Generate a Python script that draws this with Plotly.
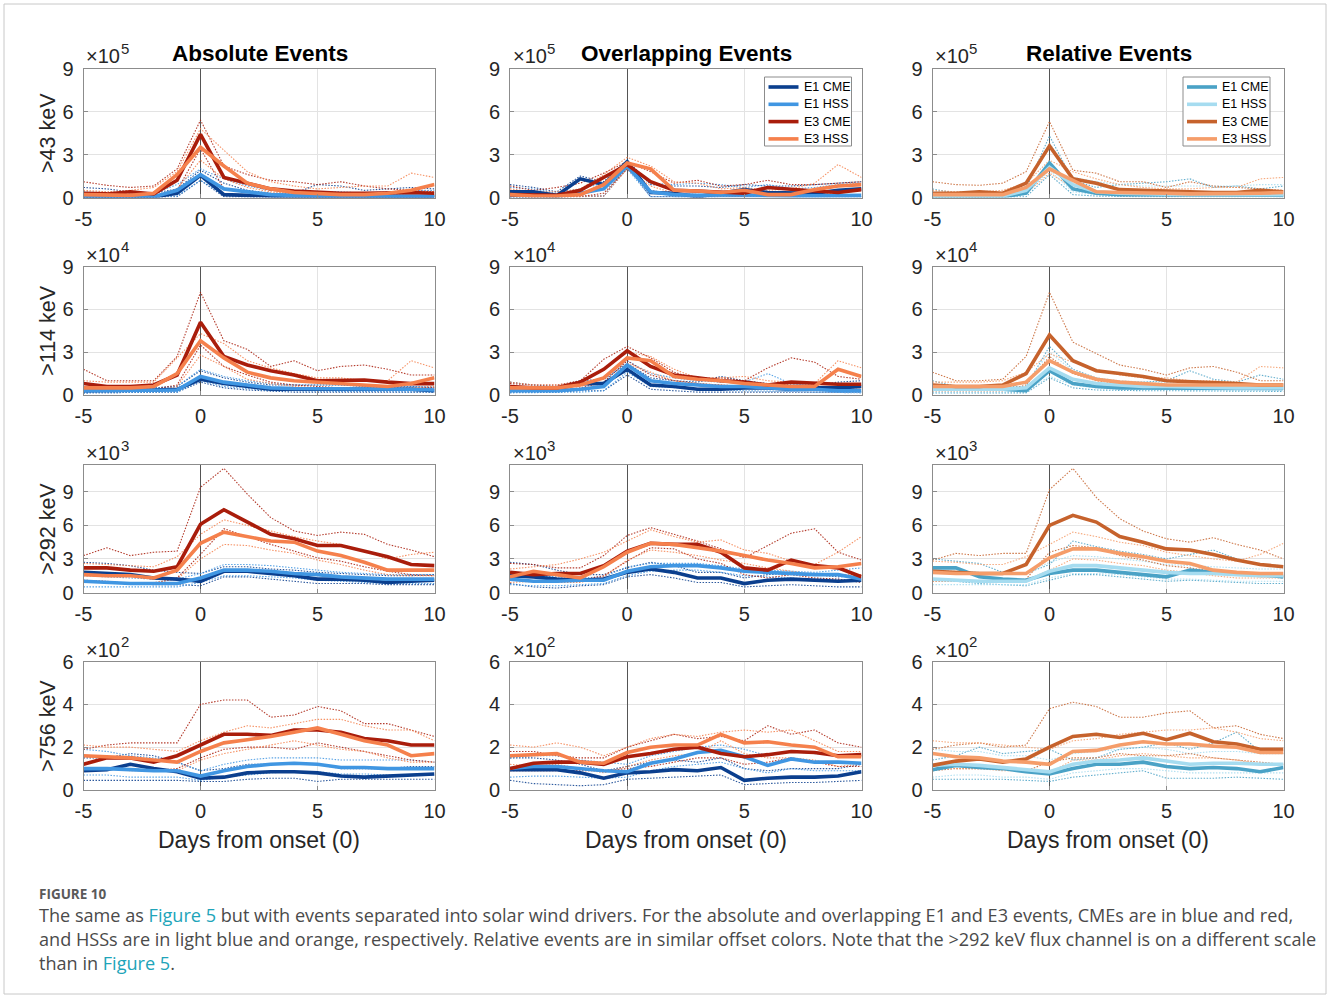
import plotly.graph_objects as go

# ---------------- data (values in units of the panel multiplier, x10^n) ----------------
DAYS = [-5, -4, -3, -2, -1, 0, 1, 2, 3, 4, 5, 6, 7, 8, 9, 10]
SERIES = ["E1 CME", "E1 HSS", "E3 CME", "E3 HSS"]
COL_TITLES = ["Absolute Events", "Overlapping Events", "Relative Events"]
ROW_LABELS = [">43 keV", ">114 keV", ">292 keV", ">756 keV"]
ROW_EXPONENTS = [5, 4, 3, 2]
ROW_YTICKS = [[0, 3, 6, 9], [0, 3, 6, 9], [0, 3, 6, 9], [0, 2, 4, 6]]
ROW_YMAX = [9, 9, 11.4, 6]
XTICKS = [-5, 0, 5, 10]
XTICK_TEXT = ["-5", "0", "5", "10"]

# ---- >43 keV ----
ABS_43_MEAN = {
    "E1 CME": [0.05, 0.05, 0.05, 0.05, 0.3, 1.55, 0.2, 0.15, 0.05, 0.05, 0.03, 0.03, 0.03, 0.04, 0.05, 0.05],
    "E1 HSS": [0.05, 0.05, 0.05, 0.05, 0.5, 1.6, 0.6, 0.4, 0.2, 0.15, 0.12, 0.1, 0.1, 0.1, 0.1, 0.1],
    "E3 CME": [0.3, 0.25, 0.4, 0.25, 1.2, 4.4, 1.4, 1.0, 0.6, 0.45, 0.35, 0.3, 0.3, 0.35, 0.35, 0.3],
    "E3 HSS": [0.2, 0.2, 0.15, 0.3, 1.6, 3.5, 2.2, 1.0, 0.6, 0.35, 0.25, 0.2, 0.2, 0.3, 0.5, 0.9],
}
ABS_43_HI = {
    "E1 CME": [0.7, 0.6, 0.4, 0.3, 0.6, 1.9, 1.0, 0.5, 0.3, 0.3, 0.9, 0.8, 0.5, 0.6, 0.7, 0.6],
    "E1 HSS": [0.4, 0.3, 0.3, 0.3, 0.9, 2.0, 1.3, 0.8, 0.5, 0.4, 0.4, 0.4, 0.3, 0.4, 0.5, 0.5],
    "E3 CME": [1.1, 0.85, 0.7, 0.8, 2.0, 5.4, 2.2, 1.6, 1.2, 1.1, 0.9, 1.1, 0.8, 0.6, 0.5, 0.4],
    "E3 HSS": [0.5, 0.4, 0.5, 0.7, 1.8, 4.8, 3.3, 1.8, 1.1, 0.8, 0.6, 0.7, 0.8, 0.8, 1.7, 1.4],
}
ABS_43_LO = {
    "E1 CME": [0.02, 0.02, 0.02, 0.02, 0.05, 1.2, 0.05, 0.03, 0.02, 0.02, 0.02, 0.02, 0.02, 0.02, 0.02, 0.02],
    "E1 HSS": [0.02, 0.02, 0.02, 0.02, 0.1, 1.2, 0.2, 0.1, 0.05, 0.05, 0.05, 0.03, 0.03, 0.03, 0.03, 0.03],
    "E3 CME": [0.05, 0.05, 0.05, 0.05, 0.5, 3.4, 0.6, 0.4, 0.25, 0.2, 0.15, 0.1, 0.1, 0.1, 0.1, 0.1],
    "E3 HSS": [0.05, 0.05, 0.05, 0.1, 0.6, 2.6, 1.3, 0.7, 0.4, 0.25, 0.15, 0.1, 0.1, 0.15, 0.3, 0.4],
}
OVL_43_MEAN = {
    "E1 CME": [0.4, 0.4, 0.15, 1.3, 0.9, 2.5, 0.35, 0.3, 0.05, 0.3, 0.55, 0.35, 0.3, 0.3, 0.5, 0.6],
    "E1 HSS": [0.15, 0.1, 0.1, 0.3, 0.6, 2.2, 0.4, 0.2, 0.15, 0.2, 0.2, 0.15, 0.1, 0.1, 0.15, 0.15],
    "E3 CME": [0.2, 0.15, 0.15, 0.5, 1.4, 2.3, 1.1, 0.5, 0.45, 0.4, 0.3, 0.7, 0.55, 0.45, 0.35, 0.55],
    "E3 HSS": [0.2, 0.1, 0.1, 0.2, 0.9, 2.4, 2.0, 0.5, 0.45, 0.35, 0.5, 0.2, 0.2, 0.55, 0.8, 0.9],
}
OVL_43_HI = {
    "E1 CME": [0.9, 0.7, 0.4, 1.5, 1.1, 2.6, 0.9, 0.8, 0.8, 0.7, 0.9, 0.8, 0.8, 0.9, 1.0, 1.1],
    "E1 HSS": [0.7, 0.6, 0.3, 0.6, 1.0, 2.4, 1.0, 0.9, 1.0, 0.9, 0.7, 0.9, 0.6, 0.7, 0.9, 1.0],
    "E3 CME": [0.8, 0.5, 0.7, 1.0, 1.7, 2.5, 1.8, 1.0, 1.2, 0.8, 0.9, 1.2, 0.9, 0.9, 1.0, 1.1],
    "E3 HSS": [0.6, 0.4, 0.4, 0.6, 1.6, 2.8, 2.2, 1.1, 1.0, 0.6, 0.7, 0.5, 0.6, 1.0, 2.3, 1.4],
}
OVL_43_LO = {
    "E1 CME": [0.05, 0.05, 0.03, 0.1, 0.1, 2.2, 0.05, 0.05, 0.02, 0.05, 0.05, 0.05, 0.05, 0.05, 0.05, 0.05],
    "E1 HSS": [0.02, 0.02, 0.02, 0.05, 0.1, 2.0, 0.05, 0.05, 0.02, 0.02, 0.02, 0.02, 0.02, 0.02, 0.02, 0.02],
    "E3 CME": [0.05, 0.05, 0.05, 0.05, 0.3, 2.0, 0.5, 0.2, 0.15, 0.1, 0.1, 0.2, 0.2, 0.15, 0.1, 0.15],
    "E3 HSS": [0.05, 0.05, 0.05, 0.05, 0.1, 2.0, 0.8, 0.3, 0.2, 0.15, 0.15, 0.1, 0.1, 0.2, 0.3, 0.5],
}
REL_43_MEAN = {
    "E1 CME": [0.05, 0.05, 0.05, 0.05, 0.3, 2.4, 0.6, 0.3, 0.2, 0.2, 0.2, 0.2, 0.15, 0.15, 0.15, 0.15],
    "E1 HSS": [0.1, 0.1, 0.1, 0.1, 0.5, 2.1, 0.9, 0.4, 0.3, 0.25, 0.2, 0.2, 0.2, 0.2, 0.2, 0.2],
    "E3 CME": [0.3, 0.3, 0.4, 0.3, 1.0, 3.6, 1.3, 1.0, 0.55, 0.5, 0.4, 0.35, 0.35, 0.35, 0.5, 0.4],
    "E3 HSS": [0.2, 0.2, 0.2, 0.2, 0.7, 2.0, 1.2, 0.4, 0.35, 0.35, 0.3, 0.25, 0.25, 0.25, 0.3, 0.35],
}
REL_43_HI = {
    "E1 CME": [0.6, 0.3, 0.3, 0.3, 0.6, 4.3, 1.2, 0.7, 0.9, 1.0, 1.1, 1.3, 0.7, 0.8, 0.6, 0.8],
    "E1 HSS": [0.4, 0.35, 0.3, 0.3, 0.8, 3.8, 1.4, 1.1, 0.9, 0.8, 0.8, 0.8, 0.8, 0.8, 0.9, 0.9],
    "E3 CME": [1.1, 0.9, 0.85, 1.0, 1.8, 5.3, 1.9, 1.7, 1.1, 1.1, 0.7, 1.1, 0.8, 0.7, 0.6, 0.5],
    "E3 HSS": [0.5, 0.4, 0.4, 0.5, 1.0, 2.6, 1.8, 1.3, 0.9, 0.7, 0.6, 0.6, 0.7, 0.7, 1.3, 1.4],
}
REL_43_LO = {
    "E1 CME": [0.02, 0.02, 0.02, 0.02, 0.05, 1.6, 0.2, 0.1, 0.05, 0.05, 0.05, 0.05, 0.05, 0.05, 0.05, 0.05],
    "E1 HSS": [0.05, 0.05, 0.05, 0.05, 0.2, 1.9, 0.4, 0.2, 0.1, 0.1, 0.1, 0.1, 0.1, 0.1, 0.1, 0.1],
    "E3 CME": [0.05, 0.05, 0.05, 0.05, 0.4, 2.3, 0.6, 0.4, 0.3, 0.25, 0.2, 0.2, 0.2, 0.2, 0.2, 0.2],
    "E3 HSS": [0.05, 0.05, 0.05, 0.05, 0.3, 1.7, 0.7, 0.3, 0.2, 0.2, 0.15, 0.15, 0.15, 0.15, 0.15, 0.15],
}

# ---- >114 keV ----
ABS_114_MEAN = {
    "E1 CME": [0.3, 0.3, 0.3, 0.35, 0.4, 1.1, 0.8, 0.6, 0.4, 0.4, 0.4, 0.4, 0.4, 0.45, 0.4, 0.3],
    "E1 HSS": [0.3, 0.3, 0.3, 0.3, 0.35, 1.3, 0.9, 0.7, 0.5, 0.45, 0.45, 0.4, 0.4, 0.4, 0.4, 0.35],
    "E3 CME": [0.8, 0.6, 0.6, 0.7, 1.4, 5.1, 2.7, 2.1, 1.7, 1.4, 1.0, 1.0, 1.05, 0.9, 0.8, 0.8],
    "E3 HSS": [0.5, 0.5, 0.5, 0.6, 1.5, 3.8, 2.6, 1.6, 1.2, 1.0, 0.9, 0.8, 0.75, 0.6, 0.8, 1.2],
}
ABS_114_HI = {
    "E1 CME": [0.6, 0.5, 0.5, 0.5, 0.6, 1.7, 1.2, 0.9, 0.7, 0.7, 0.7, 0.7, 0.6, 0.6, 0.6, 0.5],
    "E1 HSS": [0.5, 0.5, 0.5, 0.5, 0.6, 1.8, 1.3, 1.0, 0.8, 0.7, 0.7, 0.7, 0.6, 0.6, 0.6, 0.6],
    "E3 CME": [1.8, 1.0, 1.0, 1.0, 2.7, 7.2, 3.8, 3.2, 2.0, 2.4, 1.7, 2.0, 2.1, 1.8, 1.4, 1.4],
    "E3 HSS": [1.0, 0.9, 0.9, 0.9, 2.6, 4.3, 3.6, 2.4, 1.9, 1.5, 1.2, 1.2, 1.0, 1.0, 2.4, 1.9],
}
ABS_114_LO = {
    "E1 CME": [0.15, 0.15, 0.15, 0.15, 0.2, 0.9, 0.5, 0.35, 0.25, 0.2, 0.2, 0.2, 0.2, 0.2, 0.2, 0.2],
    "E1 HSS": [0.15, 0.15, 0.15, 0.15, 0.2, 1.0, 0.6, 0.45, 0.3, 0.3, 0.25, 0.25, 0.25, 0.25, 0.25, 0.2],
    "E3 CME": [0.4, 0.3, 0.3, 0.4, 0.7, 3.5, 2.0, 1.4, 0.9, 0.7, 0.6, 0.5, 0.5, 0.5, 0.5, 0.5],
    "E3 HSS": [0.3, 0.3, 0.3, 0.3, 0.6, 2.8, 2.0, 1.1, 0.8, 0.6, 0.5, 0.5, 0.4, 0.4, 0.5, 0.6],
}
OVL_114_MEAN = {
    "E1 CME": [0.5, 0.4, 0.4, 0.8, 0.8, 1.8, 0.7, 0.6, 0.4, 0.4, 0.5, 0.5, 0.4, 0.5, 0.5, 0.6],
    "E1 HSS": [0.3, 0.3, 0.3, 0.4, 0.6, 2.1, 1.0, 0.8, 0.7, 0.6, 0.6, 0.5, 0.4, 0.4, 0.3, 0.3],
    "E3 CME": [0.6, 0.5, 0.5, 0.9, 1.8, 3.1, 2.0, 1.4, 1.2, 1.0, 0.9, 0.7, 0.9, 0.8, 0.75, 0.75],
    "E3 HSS": [0.5, 0.5, 0.5, 0.7, 1.2, 2.6, 2.4, 1.3, 1.1, 1.0, 0.8, 0.7, 0.6, 0.6, 1.8, 1.3],
}
OVL_114_HI = {
    "E1 CME": [0.9, 0.7, 0.6, 1.0, 1.1, 2.2, 1.2, 1.0, 0.9, 1.3, 1.0, 0.8, 0.7, 0.7, 0.9, 1.0],
    "E1 HSS": [0.6, 0.6, 0.6, 0.7, 0.9, 2.4, 1.5, 1.2, 1.0, 0.9, 0.9, 1.5, 0.8, 0.6, 0.6, 0.6],
    "E3 CME": [0.8, 0.7, 0.7, 1.0, 2.5, 3.4, 2.6, 1.6, 1.1, 1.2, 1.0, 1.9, 2.6, 2.3, 1.3, 1.1],
    "E3 HSS": [0.9, 0.7, 0.7, 0.9, 1.8, 3.0, 2.7, 1.8, 1.2, 1.2, 1.3, 1.0, 0.9, 0.8, 2.4, 1.9],
}
OVL_114_LO = {
    "E1 CME": [0.2, 0.2, 0.2, 0.3, 0.3, 1.4, 0.4, 0.3, 0.2, 0.2, 0.2, 0.2, 0.2, 0.2, 0.2, 0.2],
    "E1 HSS": [0.15, 0.15, 0.15, 0.2, 0.3, 1.6, 0.6, 0.5, 0.4, 0.35, 0.3, 0.3, 0.25, 0.2, 0.15, 0.15],
    "E3 CME": [0.3, 0.3, 0.3, 0.5, 0.9, 2.4, 1.4, 1.0, 0.8, 0.7, 0.6, 0.5, 0.5, 0.5, 0.4, 0.4],
    "E3 HSS": [0.3, 0.3, 0.3, 0.4, 0.7, 2.2, 1.6, 1.0, 0.8, 0.7, 0.6, 0.5, 0.4, 0.4, 0.6, 0.5],
}
REL_114_MEAN = {
    "E1 CME": [0.4, 0.4, 0.4, 0.4, 0.3, 1.7, 0.8, 0.6, 0.5, 0.5, 0.5, 0.5, 0.45, 0.45, 0.45, 0.45],
    "E1 HSS": [0.4, 0.4, 0.4, 0.4, 0.5, 1.9, 1.1, 0.8, 0.7, 0.6, 0.6, 0.55, 0.5, 0.5, 0.5, 0.5],
    "E3 CME": [0.7, 0.6, 0.6, 0.7, 1.5, 4.2, 2.4, 1.7, 1.5, 1.3, 1.0, 0.95, 0.9, 0.8, 0.7, 0.7],
    "E3 HSS": [0.6, 0.6, 0.6, 0.6, 0.9, 2.4, 1.6, 1.1, 0.9, 0.8, 0.7, 0.7, 0.7, 0.7, 0.7, 0.7],
}
REL_114_HI = {
    "E1 CME": [1.0, 0.6, 0.6, 0.6, 0.6, 3.4, 1.8, 1.2, 0.9, 0.9, 1.0, 1.7, 1.1, 0.9, 1.4, 1.1],
    "E1 HSS": [0.6, 0.6, 0.6, 0.6, 0.8, 3.0, 1.7, 1.2, 1.0, 0.9, 0.9, 0.9, 0.8, 0.8, 0.8, 0.8],
    "E3 CME": [1.6, 1.0, 1.0, 1.1, 2.7, 7.2, 3.7, 2.9, 2.1, 1.8, 1.4, 1.9, 2.0, 1.6, 1.0, 1.0],
    "E3 HSS": [0.9, 0.9, 0.9, 1.0, 1.6, 2.9, 2.3, 1.8, 1.4, 1.2, 1.2, 1.0, 1.0, 0.9, 2.0, 1.9],
}
REL_114_LO = {
    "E1 CME": [0.15, 0.15, 0.15, 0.15, 0.15, 1.2, 0.5, 0.35, 0.3, 0.3, 0.3, 0.3, 0.25, 0.25, 0.25, 0.25],
    "E1 HSS": [0.2, 0.2, 0.2, 0.2, 0.3, 1.3, 0.7, 0.5, 0.4, 0.4, 0.35, 0.35, 0.3, 0.3, 0.3, 0.3],
    "E3 CME": [0.3, 0.3, 0.3, 0.3, 0.7, 2.7, 1.5, 1.0, 0.8, 0.7, 0.6, 0.5, 0.5, 0.45, 0.4, 0.4],
    "E3 HSS": [0.3, 0.3, 0.3, 0.3, 0.5, 1.9, 1.1, 0.7, 0.6, 0.5, 0.45, 0.45, 0.4, 0.4, 0.4, 0.4],
}

# ---- >292 keV ----
ABS_292_MEAN = {
    "E1 CME": [1.8, 1.7, 1.6, 1.3, 1.2, 1.0, 1.9, 1.9, 1.7, 1.5, 1.2, 1.2, 1.1, 0.9, 1.0, 1.1],
    "E1 HSS": [1.0, 0.9, 0.8, 0.8, 0.8, 1.3, 2.0, 2.0, 1.9, 1.7, 1.6, 1.4, 1.3, 1.2, 1.2, 1.2],
    "E3 CME": [2.2, 2.2, 2.0, 1.9, 2.3, 6.1, 7.4, 6.3, 5.2, 4.8, 4.2, 4.2, 3.7, 3.2, 2.5, 2.4],
    "E3 HSS": [1.6, 1.5, 1.5, 1.3, 2.0, 4.4, 5.4, 5.0, 4.6, 4.5, 3.7, 3.3, 2.7, 2.0, 2.0, 2.0],
}
ABS_292_HI = {
    "E1 CME": [2.7, 2.6, 2.4, 2.0, 1.8, 1.7, 2.3, 2.3, 2.1, 2.0, 1.8, 1.7, 1.6, 1.5, 1.5, 1.6],
    "E1 HSS": [1.5, 1.4, 1.3, 1.2, 1.2, 1.7, 2.5, 2.5, 2.4, 2.2, 2.0, 1.8, 1.7, 1.6, 1.6, 1.6],
    "E3 CME": [3.3, 4.0, 3.3, 3.6, 3.7, 9.4, 11.1, 8.8, 6.7, 5.5, 5.1, 5.4, 5.2, 4.3, 3.8, 3.2],
    "E3 HSS": [2.6, 2.5, 2.4, 2.3, 3.2, 5.2, 6.5, 6.0, 5.5, 5.0, 4.6, 4.3, 3.7, 3.0, 3.4, 3.6],
}
ABS_292_LO = {
    "E1 CME": [1.0, 0.9, 0.8, 0.7, 0.7, 0.6, 1.4, 1.4, 1.2, 1.0, 0.8, 0.8, 0.8, 0.7, 0.7, 0.7],
    "E1 HSS": [0.5, 0.5, 0.5, 0.5, 0.5, 0.9, 1.5, 1.5, 1.4, 1.3, 1.1, 1.0, 0.9, 0.8, 0.8, 0.8],
    "E3 CME": [1.1, 1.0, 0.8, 0.8, 1.3, 3.4, 5.7, 5.0, 4.3, 3.7, 3.1, 2.8, 2.3, 1.9, 1.6, 1.5],
    "E3 HSS": [1.0, 0.9, 0.9, 0.9, 1.2, 3.0, 4.3, 4.2, 3.8, 3.5, 2.9, 2.5, 2.0, 1.6, 1.5, 1.5],
}
OVL_292_MEAN = {
    "E1 CME": [1.5, 1.4, 1.2, 1.1, 1.2, 1.8, 2.1, 1.8, 1.3, 1.3, 0.8, 1.1, 1.2, 1.1, 1.0, 1.1],
    "E1 HSS": [1.2, 1.0, 1.0, 1.1, 1.1, 1.9, 2.3, 2.4, 2.4, 2.2, 1.9, 1.8, 1.7, 1.6, 1.6, 1.2],
    "E3 CME": [1.8, 1.6, 1.7, 1.7, 2.4, 3.7, 4.4, 4.3, 4.3, 3.6, 2.2, 2.0, 2.9, 2.4, 2.2, 1.4],
    "E3 HSS": [1.4, 1.9, 1.6, 1.3, 2.3, 3.6, 4.4, 4.3, 4.0, 3.7, 3.3, 2.9, 2.6, 2.2, 2.3, 2.6],
}
OVL_292_HI = {
    "E1 CME": [2.7, 2.5, 2.0, 1.6, 1.6, 2.2, 2.7, 2.4, 1.8, 1.8, 1.3, 1.6, 1.7, 1.6, 1.4, 1.5],
    "E1 HSS": [1.6, 1.5, 1.4, 1.3, 1.4, 2.3, 2.6, 2.6, 2.6, 2.4, 2.1, 2.0, 1.9, 1.8, 2.0, 2.2],
    "E3 CME": [2.6, 2.5, 2.2, 2.2, 3.3, 5.1, 5.8, 5.2, 4.6, 3.9, 3.1, 4.2, 5.3, 5.7, 3.6, 2.9],
    "E3 HSS": [2.1, 2.3, 2.5, 3.0, 3.6, 4.6, 5.6, 5.0, 4.5, 4.7, 3.8, 3.5, 2.8, 2.5, 3.6, 5.0],
}
OVL_292_LO = {
    "E1 CME": [0.8, 0.5, 0.4, 0.6, 0.7, 1.4, 1.6, 1.3, 0.9, 0.9, 0.5, 0.6, 0.7, 0.6, 0.5, 0.5],
    "E1 HSS": [0.7, 0.6, 0.6, 0.7, 0.8, 1.5, 1.9, 2.0, 2.0, 1.8, 1.5, 1.4, 1.3, 1.2, 1.2, 0.9],
    "E3 CME": [1.2, 1.0, 1.0, 1.1, 1.5, 2.8, 4.0, 3.9, 3.0, 2.6, 1.6, 1.3, 1.6, 1.3, 1.2, 0.9],
    "E3 HSS": [0.9, 1.0, 0.9, 0.9, 1.4, 2.9, 3.8, 3.6, 3.3, 2.9, 2.6, 2.2, 1.9, 1.6, 1.6, 1.6],
}
REL_292_MEAN = {
    "E1 CME": [2.2, 2.2, 1.4, 1.2, 1.1, 1.7, 2.0, 2.0, 1.8, 1.6, 1.4, 2.0, 1.8, 1.7, 1.6, 1.4],
    "E1 HSS": [1.2, 1.1, 1.0, 1.0, 1.0, 1.9, 2.4, 2.4, 2.2, 2.0, 1.8, 1.7, 1.7, 1.6, 1.5, 1.5],
    "E3 CME": [1.9, 1.8, 1.7, 1.7, 2.5, 6.0, 6.9, 6.3, 5.0, 4.5, 3.9, 3.8, 3.4, 2.9, 2.5, 2.3],
    "E3 HSS": [1.8, 1.7, 1.7, 1.7, 1.7, 3.1, 3.9, 3.9, 3.5, 3.2, 2.8, 2.6, 2.0, 1.8, 1.7, 1.7],
}
REL_292_HI = {
    "E1 CME": [3.0, 2.8, 2.6, 1.8, 1.7, 2.5, 4.6, 4.1, 3.7, 3.4, 3.0, 3.4, 3.8, 3.0, 2.5, 2.4],
    "E1 HSS": [2.0, 1.9, 1.8, 1.7, 1.7, 2.7, 3.3, 3.2, 3.0, 2.8, 2.5, 2.4, 2.3, 2.2, 2.1, 2.1],
    "E3 CME": [2.9, 3.5, 3.3, 3.5, 3.5, 9.2, 11.1, 8.5, 6.6, 5.5, 4.8, 4.5, 4.9, 4.3, 3.8, 3.0],
    "E3 HSS": [2.8, 2.7, 2.5, 2.5, 3.2, 4.3, 5.4, 5.0, 4.5, 4.2, 3.6, 3.3, 3.0, 2.8, 3.4, 4.4],
}
REL_292_LO = {
    "E1 CME": [1.1, 1.0, 0.8, 0.7, 0.6, 1.1, 1.6, 1.6, 1.4, 1.2, 1.0, 1.1, 1.0, 0.9, 0.8, 0.8],
    "E1 HSS": [0.7, 0.7, 0.7, 0.7, 0.7, 1.3, 1.7, 1.7, 1.6, 1.4, 1.2, 1.2, 1.1, 1.0, 1.0, 1.0],
    "E3 CME": [1.0, 1.0, 1.0, 1.0, 1.2, 3.6, 4.2, 4.0, 3.3, 2.9, 2.4, 2.2, 1.9, 1.6, 1.4, 1.4],
    "E3 HSS": [1.0, 1.0, 1.0, 1.0, 1.1, 2.0, 3.0, 2.9, 2.6, 2.4, 2.0, 1.8, 1.5, 1.3, 1.3, 1.3],
}

# ---- >756 keV ----
ABS_756_MEAN = {
    "E1 CME": [0.9, 0.95, 1.2, 1.0, 0.85, 0.55, 0.6, 0.8, 0.85, 0.85, 0.8, 0.65, 0.6, 0.65, 0.7, 0.75],
    "E1 HSS": [1.0, 1.0, 0.95, 0.9, 0.9, 0.65, 0.9, 1.1, 1.2, 1.25, 1.2, 1.05, 1.05, 1.0, 1.0, 1.0],
    "E3 CME": [1.2, 1.5, 1.5, 1.3, 1.6, 2.1, 2.6, 2.6, 2.55, 2.8, 2.8, 2.7, 2.4, 2.3, 2.1, 2.1],
    "E3 HSS": [1.6, 1.55, 1.5, 1.4, 1.3, 1.8, 2.2, 2.35, 2.5, 2.7, 2.9, 2.6, 2.3, 2.1, 1.6, 1.7],
}
ABS_756_HI = {
    "E1 CME": [1.5, 1.5, 1.7, 1.6, 1.3, 0.9, 1.0, 1.2, 1.2, 1.2, 1.2, 1.0, 1.0, 1.0, 1.1, 1.1],
    "E1 HSS": [1.9, 1.8, 1.6, 1.5, 1.3, 0.9, 1.2, 1.4, 1.5, 1.5, 1.5, 1.4, 1.4, 1.4, 1.4, 1.3],
    "E3 CME": [1.9, 2.1, 2.2, 2.2, 2.2, 4.0, 4.2, 4.2, 3.4, 3.5, 3.9, 3.7, 3.1, 3.1, 2.8, 2.5],
    "E3 HSS": [2.1, 2.0, 2.0, 1.9, 1.8, 2.3, 2.7, 3.0, 2.9, 3.1, 3.3, 3.3, 3.0, 2.8, 2.8, 2.3],
}
ABS_756_LO = {
    "E1 CME": [0.45, 0.45, 0.45, 0.45, 0.45, 0.4, 0.4, 0.5, 0.55, 0.55, 0.4, 0.5, 0.5, 0.5, 0.5, 0.5],
    "E1 HSS": [0.7, 0.7, 0.6, 0.6, 0.6, 0.45, 0.6, 0.7, 0.8, 0.85, 0.85, 0.75, 0.75, 0.7, 0.7, 0.7],
    "E3 CME": [0.9, 1.0, 1.0, 0.9, 1.0, 1.5, 1.9, 2.0, 2.0, 1.9, 2.2, 2.0, 1.8, 1.6, 1.4, 1.3],
    "E3 HSS": [1.0, 1.0, 0.9, 0.9, 0.9, 1.4, 1.7, 1.9, 2.1, 2.3, 2.1, 1.9, 1.8, 1.5, 1.3, 1.3],
}
OVL_756_MEAN = {
    "E1 CME": [0.95, 0.95, 0.95, 0.8, 0.55, 0.8, 0.85, 0.95, 0.9, 1.05, 0.45, 0.55, 0.6, 0.6, 0.65, 0.85],
    "E1 HSS": [1.0, 1.1, 1.1, 1.0, 0.9, 0.85, 1.25, 1.45, 1.75, 1.85, 1.55, 1.15, 1.45, 1.3, 1.3, 1.25],
    "E3 CME": [1.0, 1.25, 1.3, 1.3, 1.2, 1.55, 1.7, 1.9, 2.0, 1.7, 1.55, 1.65, 1.8, 1.75, 1.6, 1.65],
    "E3 HSS": [1.6, 1.65, 1.7, 1.3, 1.25, 1.75, 2.0, 2.1, 2.1, 2.6, 2.2, 2.25, 2.1, 2.0, 1.55, 1.55],
}
OVL_756_HI = {
    "E1 CME": [1.5, 1.5, 1.4, 1.2, 0.9, 1.1, 1.3, 1.4, 1.3, 1.5, 1.0, 0.9, 1.0, 1.0, 1.0, 1.2],
    "E1 HSS": [1.5, 1.6, 1.6, 1.4, 1.3, 1.2, 1.6, 1.8, 2.0, 2.1, 1.9, 1.6, 1.8, 1.7, 1.6, 1.6],
    "E3 CME": [1.8, 1.8, 1.6, 1.5, 1.5, 2.0, 2.3, 2.6, 2.4, 2.5, 2.3, 3.0, 2.6, 2.8, 2.2, 2.0],
    "E3 HSS": [2.1, 2.0, 2.2, 2.0, 1.6, 2.0, 2.4, 2.6, 2.5, 2.7, 2.8, 2.7, 2.8, 2.3, 1.8, 1.8],
}
OVL_756_LO = {
    "E1 CME": [0.45, 0.3, 0.25, 0.2, 0.25, 0.5, 0.55, 0.6, 0.65, 0.7, 0.25, 0.3, 0.35, 0.35, 0.4, 0.45],
    "E1 HSS": [0.6, 0.65, 0.65, 0.6, 0.55, 0.6, 0.9, 1.1, 1.2, 1.3, 1.0, 0.8, 1.0, 0.9, 0.9, 0.9],
    "E3 CME": [0.9, 0.9, 0.9, 0.9, 0.9, 1.0, 1.1, 1.3, 1.5, 1.5, 1.2, 1.3, 1.5, 1.3, 1.1, 1.1],
    "E3 HSS": [1.2, 1.1, 1.2, 1.0, 0.8, 1.1, 1.4, 1.6, 1.7, 2.3, 1.7, 1.5, 1.5, 1.4, 1.1, 1.2],
}
REL_756_MEAN = {
    "E1 CME": [0.95, 1.15, 1.05, 1.0, 0.85, 0.75, 1.0, 1.2, 1.2, 1.3, 1.1, 1.0, 1.05, 1.0, 0.85, 1.05],
    "E1 HSS": [1.15, 1.2, 1.15, 1.05, 0.95, 0.85, 1.2, 1.35, 1.4, 1.5, 1.35, 1.2, 1.25, 1.25, 1.2, 1.2],
    "E3 CME": [1.15, 1.35, 1.45, 1.3, 1.45, 2.0, 2.5, 2.6, 2.45, 2.65, 2.35, 2.65, 2.25, 2.15, 1.9, 1.9],
    "E3 HSS": [1.7, 1.55, 1.5, 1.35, 1.3, 1.2, 1.8, 1.85, 2.1, 2.25, 2.15, 2.15, 2.05, 2.0, 1.75, 1.75],
}
REL_756_HI = {
    "E1 CME": [1.4, 1.6, 2.0, 1.7, 1.8, 1.9, 1.4, 1.5, 1.9, 2.0, 2.2, 1.9, 2.2, 2.7, 1.8, 1.7],
    "E1 HSS": [1.9, 1.8, 1.8, 1.6, 1.6, 1.4, 1.7, 1.8, 1.9, 2.0, 1.9, 1.7, 1.8, 1.8, 1.7, 1.7],
    "E3 CME": [1.9, 2.1, 2.2, 2.0, 2.1, 3.8, 4.1, 3.9, 3.4, 3.4, 3.6, 3.7, 2.9, 3.0, 2.6, 2.4],
    "E3 HSS": [2.3, 2.2, 2.2, 2.1, 2.0, 1.9, 2.3, 2.4, 2.6, 2.7, 2.8, 2.8, 2.9, 2.7, 2.4, 2.3],
}
REL_756_LO = {
    "E1 CME": [0.5, 0.5, 0.5, 0.5, 0.45, 0.4, 0.6, 0.7, 0.8, 0.9, 0.55, 0.55, 0.55, 0.6, 0.55, 0.5],
    "E1 HSS": [0.6, 0.7, 0.7, 0.6, 0.6, 0.5, 0.8, 0.9, 1.0, 1.0, 0.9, 0.8, 0.8, 0.8, 0.8, 0.8],
    "E3 CME": [0.9, 1.0, 1.0, 1.0, 0.9, 1.3, 1.5, 1.5, 1.7, 1.6, 1.6, 1.7, 1.5, 1.4, 1.3, 1.2],
    "E3 HSS": [1.1, 1.0, 1.0, 0.9, 0.9, 0.8, 1.4, 1.4, 1.6, 1.7, 1.6, 1.5, 1.5, 1.4, 1.2, 1.2],
}

# (mean, upper, lower) per panel, rows top->bottom, cols left->right
PANELS = [
    [(ABS_43_MEAN, ABS_43_HI, ABS_43_LO), (OVL_43_MEAN, OVL_43_HI, OVL_43_LO), (REL_43_MEAN, REL_43_HI, REL_43_LO)],
    [(ABS_114_MEAN, ABS_114_HI, ABS_114_LO), (OVL_114_MEAN, OVL_114_HI, OVL_114_LO), (REL_114_MEAN, REL_114_HI, REL_114_LO)],
    [(ABS_292_MEAN, ABS_292_HI, ABS_292_LO), (OVL_292_MEAN, OVL_292_HI, OVL_292_LO), (REL_292_MEAN, REL_292_HI, REL_292_LO)],
    [(ABS_756_MEAN, ABS_756_HI, ABS_756_LO), (OVL_756_MEAN, OVL_756_HI, OVL_756_LO), (REL_756_MEAN, REL_756_HI, REL_756_LO)],
]

CAPTION_LABEL = "FIGURE 10"
CAPTION_LINES = [
    "The same as {F5} but with events separated into solar wind drivers. For the absolute and overlapping E1 and E3 events, CMEs are in blue and red,",
    "and HSSs are in light blue and orange, respectively. Relative events are in similar offset colors. Note that the >292 keV flux channel is on a different scale",
    "than in {F5}.",
]

# ---------------- styling ----------------
W, H = 1330, 998
COLORS_ABS = {"E1 CME": "#0b3f8e", "E1 HSS": "#4096e2", "E3 CME": "#a91d0b", "E3 HSS": "#f5804c"}
COLORS_REL = {"E1 CME": "#4aa2c6", "E1 HSS": "#a6dcf0", "E3 CME": "#c6622c", "E3 HSS": "#f59d6a"}
COL_COLORS = [COLORS_ABS, COLORS_ABS, COLORS_REL]

COL_X_PX = [(83.5, 434.5), (510.0, 861.5), (932.5, 1283.5)]
ROW_Y_PX = [(68.5, 197.5), (266.5, 395.0), (465.0, 592.5), (661.5, 790.0)]
FONT = "Liberation Sans, Arial, Helvetica, sans-serif"
TICK_COLOR = "#262626"


def px(x):
    return x / W


def py(y):
    return 1 - y / H


fig = go.Figure()
layout = {}
annotations = []
shapes = []

for r in range(4):
    for c in range(3):
        idx = r * 3 + c + 1
        xa = "x" if idx == 1 else f"x{idx}"
        ya = "y" if idx == 1 else f"y{idx}"
        mean, hi, lo = PANELS[r][c]
        cols = COL_COLORS[c]
        # dotted bounds
        for s in SERIES:
            for band in (hi, lo):
                fig.add_trace(go.Scatter(
                    x=DAYS, y=band[s], mode="lines", xaxis=xa, yaxis=ya,
                    line=dict(color=cols[s], width=1.1, dash="1.5px,1.5px"),
                    opacity=0.85, showlegend=False, hoverinfo="skip"))
        for s in SERIES:
            fig.add_trace(go.Scatter(
                x=DAYS, y=mean[s], mode="lines", xaxis=xa, yaxis=ya, name=s,
                line=dict(color=cols[s], width=3.6), showlegend=False))

        x0, x1 = COL_X_PX[c]
        y0, y1 = ROW_Y_PX[r]
        layout[f"xaxis{idx}"] = dict(
            domain=[px(x0), px(x1)], anchor=ya, range=[-5, 10],
            tickmode="array", tickvals=XTICKS, ticktext=XTICK_TEXT,
            showgrid=True, gridcolor="#e3e3e3", gridwidth=1,
            zeroline=True, zerolinecolor="#555555", zerolinewidth=1,
            showline=True, linecolor="#8c8c8c", linewidth=1, mirror=True,
            ticks="inside", ticklen=4, tickcolor="#8c8c8c",
            tickfont=dict(family=FONT, size=20, color=TICK_COLOR),
            ticklabelstandoff=3, fixedrange=True)
        layout[f"yaxis{idx}"] = dict(
            domain=[py(y1), py(y0)], anchor=xa, range=[0, ROW_YMAX[r]],
            tickmode="array", tickvals=ROW_YTICKS[r],
            showgrid=True, gridcolor="#e3e3e3", gridwidth=1, zeroline=False,
            showline=True, linecolor="#8c8c8c", linewidth=1, mirror=True,
            ticks="inside", ticklen=4, tickcolor="#8c8c8c",
            tickfont=dict(family=FONT, size=20, color=TICK_COLOR),
            ticklabelstandoff=5, fixedrange=True)
        # exponent label: "x10" plus a raised exponent
        annotations.append(dict(
            xref="paper", yref="paper", x=px(x0 + 0.5), y=py(y0 - 12),
            xanchor="left", yanchor="middle", showarrow=False,
            text="\u00d710", font=dict(family=FONT, size=20, color=TICK_COLOR)))
        annotations.append(dict(
            xref="paper", yref="paper", x=px(x0 + 35), y=py(y0 - 20),
            xanchor="left", yanchor="middle", showarrow=False,
            text=str(ROW_EXPONENTS[r]), font=dict(family=FONT, size=15, color=TICK_COLOR)))

# column titles and x-axis titles
for c in range(3):
    x0, x1 = COL_X_PX[c]
    annotations.append(dict(
        xref="paper", yref="paper", x=px((x0 + x1) / 2 + 1), y=py(53),
        xanchor="center", yanchor="middle", showarrow=False,
        text=f"<b>{COL_TITLES[c]}</b>", font=dict(family=FONT, size=22.5, color="#000000")))
    annotations.append(dict(
        xref="paper", yref="paper", x=px((x0 + x1) / 2), y=py(840),
        xanchor="center", yanchor="middle", showarrow=False,
        text="Days from onset (0)", font=dict(family=FONT, size=23, color=TICK_COLOR)))

# row labels
for r in range(4):
    y0, y1 = ROW_Y_PX[r]
    annotations.append(dict(
        xref="paper", yref="paper", x=px(48), y=py((y0 + y1) / 2),
        xanchor="center", yanchor="middle", showarrow=False, textangle=-90,
        text=ROW_LABELS[r], font=dict(family=FONT, size=21.5, color=TICK_COLOR)))

# legends (top row, overlapping and relative panels)
for c, lx in ((1, 764.5), (2, 1183.0)):
    cols = COL_COLORS[c]
    shapes.append(dict(type="rect", xref="paper", yref="paper",
                       x0=px(lx), x1=px(lx + 87), y0=py(77), y1=py(146),
                       line=dict(color="#8c8c8c", width=1), fillcolor="white", layer="above"))
    for i, s in enumerate(SERIES):
        yy = 87 + i * 17.3
        shapes.append(dict(type="line", xref="paper", yref="paper",
                           x0=px(lx + 4), x1=px(lx + 34), y0=py(yy), y1=py(yy),
                           line=dict(color=cols[s], width=3.6), layer="above"))
        annotations.append(dict(
            xref="paper", yref="paper", x=px(lx + 37), y=py(yy),
            xanchor="left", yanchor="middle", showarrow=False, text=s,
            font=dict(family=FONT, size=12.5, color="#000000")))

# caption
CAP_FONT = "Open Sans, Noto Sans, sans-serif"
link = '<span style="color:#20a4b9">Figure 5</span>'
annotations.append(dict(
    xref="paper", yref="paper", x=px(37), y=py(894), xanchor="left", yanchor="middle",
    showarrow=False, text=f"<b>{CAPTION_LABEL}</b>",
    font=dict(family=CAP_FONT, size=13.5, color="#5a5a5a")))
for i, line in enumerate(CAPTION_LINES):
    annotations.append(dict(
        xref="paper", yref="paper", x=px(37), y=py(914.5 + i * 24), xanchor="left", yanchor="middle",
        showarrow=False, text=line.replace("{F5}", link),
        font=dict(family=CAP_FONT, size=18.1, color="#4a4a4a")))

# outer frame
shapes.append(dict(type="rect", xref="paper", yref="paper", x0=px(4), x1=px(1326), y0=py(994), y1=py(4),
                   line=dict(color="#c8c8c8", width=1), fillcolor="rgba(0,0,0,0)", layer="below"))

fig.update_layout(
    width=W, height=H, margin=dict(l=0, r=0, t=0, b=0, autoexpand=False),
    paper_bgcolor="white", plot_bgcolor="white", showlegend=False,
    annotations=annotations, shapes=shapes, **layout)

fig.write_html("out.html", config={"displayModeBar": False},
               post_script="document.body.style.margin='0';")
